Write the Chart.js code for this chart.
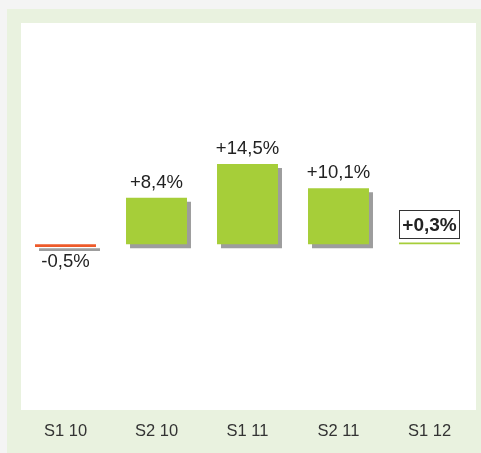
<!DOCTYPE html>
<html><head><meta charset="utf-8">
<script src="https://cdn.jsdelivr.net/npm/chart.js@4/dist/chart.umd.min.js"></script>
<style>html,body{margin:0;padding:0;background:#f4f4f4;}#c{position:absolute;left:0;top:0;}</style>
</head><body>
<canvas id="c" width="481" height="453"></canvas>
<script>
const categories = ["S1 10","S2 10","S1 11","S2 11","S1 12"];
const values = [-0.5, 8.4, 14.5, 10.1, 0.3];
const valueLabels = ["-0,5%","+8,4%","+14,5%","+10,1%","+0,3%"];
const barColors = ["#ee5a2a","#a6ce39","#a6ce39","#a6ce39","#a6ce39"];
const shadowColors = ["#9d9d9d","#9d9d9d","#9d9d9d","#9d9d9d","rgba(0,0,0,0)"];

const FONT = '"Liberation Sans", Arial, sans-serif';

const bgPlugin = {
  id:'bg',
  beforeDraw(chart){
    const ctx=chart.ctx, a=chart.chartArea;
    ctx.save();
    ctx.fillStyle='#f4f4f4'; ctx.fillRect(0,0,chart.width,chart.height);
    ctx.fillStyle='#e9f2df'; ctx.fillRect(7,9,chart.width-7,chart.height-9);
    ctx.fillStyle='#ffffff'; ctx.fillRect(a.left+1,a.top,a.right-a.left,a.bottom-a.top);
    ctx.restore();
  }
};
const shadowPlugin = {
  id:'shadow',
  beforeDatasetDraw(chart,args){
    if(args.index===0){chart.ctx.save();chart.ctx.translate(4,4);}
  },
  afterDatasetDraw(chart,args){
    if(args.index===0){chart.ctx.restore();}
  }
};
const labelPlugin = {
  id:'lbl',
  afterDatasetsDraw(chart){
    const ctx=chart.ctx;
    const meta=chart.getDatasetMeta(1);
    meta.data.forEach((bar,i)=>{
      const v=values[i];
      const last = i===values.length-1;
      ctx.save();
      ctx.fillStyle='#222';
      ctx.textAlign='center';
      ctx.font=(last?'bold 19px ':'18.5px ')+FONT;
      if(v>=0){
        ctx.textBaseline='alphabetic';
        const yb = bar.y - (last?11:10);
        ctx.fillText(valueLabels[i], bar.x, yb);
        if(last){
          const w=ctx.measureText(valueLabels[i]).width;
          ctx.strokeStyle='#333'; ctx.lineWidth=1;
          ctx.strokeRect(Math.round(bar.x-w/2-3)+0.5, Math.round(yb-21)+0.5, Math.round(w+6), 28);
        }
      } else {
        ctx.textBaseline='top';
        ctx.fillText(valueLabels[i], bar.x, bar.y+6);
      }
      ctx.restore();
    });
  }
};

new Chart(document.getElementById('c'),{
  type:'bar',
  data:{
    labels:categories,
    datasets:[
      {data:values, backgroundColor:shadowColors, order:2, barPercentage:0.67, categoryPercentage:1, grouped:false},
      {data:values, backgroundColor:barColors, order:1, barPercentage:0.67, categoryPercentage:1, grouped:false}
    ]
  },
  options:{
    responsive:false, animation:false, devicePixelRatio:1,
    layout:{padding:{left:20,right:6,top:23,bottom:0}},
    plugins:{legend:{display:false},tooltip:{enabled:false}},
    scales:{
      x:{grid:{display:false, drawTicks:false}, border:{display:false},
         afterFit(scale){ scale.height = 43; },
         ticks:{color:'#333', padding:12, font:{size:16.5, family:FONT}}},
      y:{display:false, min:-30, max:40}
    }
  },
  plugins:[bgPlugin, shadowPlugin, labelPlugin]
});
</script>
</body></html>
